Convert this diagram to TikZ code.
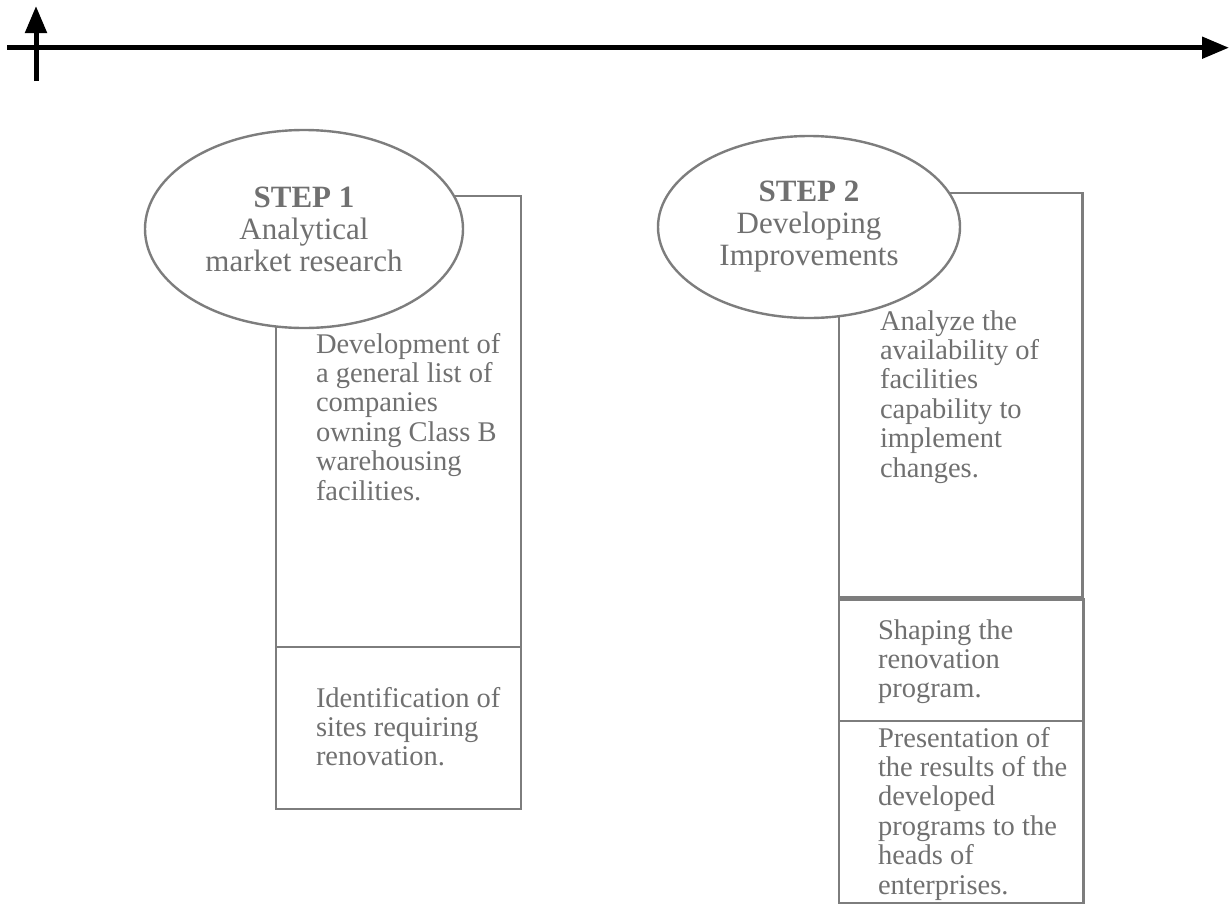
\documentclass[tikz,border=0pt]{standalone}
\usepackage{fontspec}
\setmainfont{Liberation Serif}
\usetikzlibrary{shapes.geometric,arrows.meta}
\definecolor{linegray}{RGB}{125,125,125}
\definecolor{textgray}{RGB}{112,112,112}
\begin{document}
\begin{tikzpicture}[x=1pt,y=-1pt,
  boxshape/.style={draw=linegray,line width=2.4pt,rectangle,inner sep=0pt,outer sep=0pt,anchor=north west},
  stepshape/.style={draw=linegray,line width=2.4pt,fill=white,ellipse,inner sep=0pt,outer sep=0pt,
    align=center,text=textgray,font=\fontsize{31}{32}\selectfont},
  boxtext/.style={anchor=north west,inner sep=0pt,outer sep=0pt,align=left,text=textgray,
    font=\fontsize{28.5}{29.4}\selectfont},
  axis/.style={line width=5pt,black,-{Triangle[length=27pt,width=21pt]}}]
\useasboundingbox (0,0) rectangle (1229,906);
% axes
\coordinate (hstart) at (7,47.7);
\coordinate (hend) at (1229,47.7);
\coordinate (vstart) at (36,81);
\coordinate (vend) at (36,6);
\draw[axis] (hstart) -- (hend);
\draw[axis] (vstart) -- (vend);
% step 1 boxes
\node[boxshape,minimum width=245pt,minimum height=451pt] (b1a) at (276,196) {};
\node[boxshape,minimum width=245pt,minimum height=162pt] (b1b) at (276,647) {};
% step 2 boxes
\node[boxshape,minimum width=243.5pt,minimum height=404.5pt] (b2a) at (839,193) {};
\node[boxshape,minimum width=244.5pt,minimum height=121.5pt] (b2b) at (839,599.5) {};
\node[boxshape,minimum width=244.5pt,minimum height=182pt] (b2c) at (839,721) {};
% ellipses
\node[stepshape,minimum width=318pt,minimum height=198pt] (e1) at (304,229)
  {\textbf{STEP 1}\\Analytical\\market research};
\node[stepshape,minimum width=302pt,minimum height=182pt] (e2) at (809,227)
  {\textbf{STEP 2}\\Developing\\Improvements};
% texts
\node[boxtext] (t1a) at (316,333) {\rule{0pt}{20pt}Development of\\a general list of\\companies\\owning Class B\\warehousing\\facilities.};
\node[boxtext] (t1b) at (316,687) {\rule{0pt}{20pt}Identification of\\sites requiring\\renovation.};
\node[boxtext] (t2a) at (880,310) {\rule{0pt}{20pt}Analyze the\\availability of\\facilities\\capability to\\implement\\changes.};
\node[boxtext] (t2b) at (878,619) {\rule{0pt}{20pt}Shaping the\\renovation\\program.};
\node[boxtext] (t2c) at (878,727) {\rule{0pt}{20pt}Presentation of\\the results of the\\developed\\programs to the\\heads of\\enterprises.};
\end{tikzpicture}
\end{document}
